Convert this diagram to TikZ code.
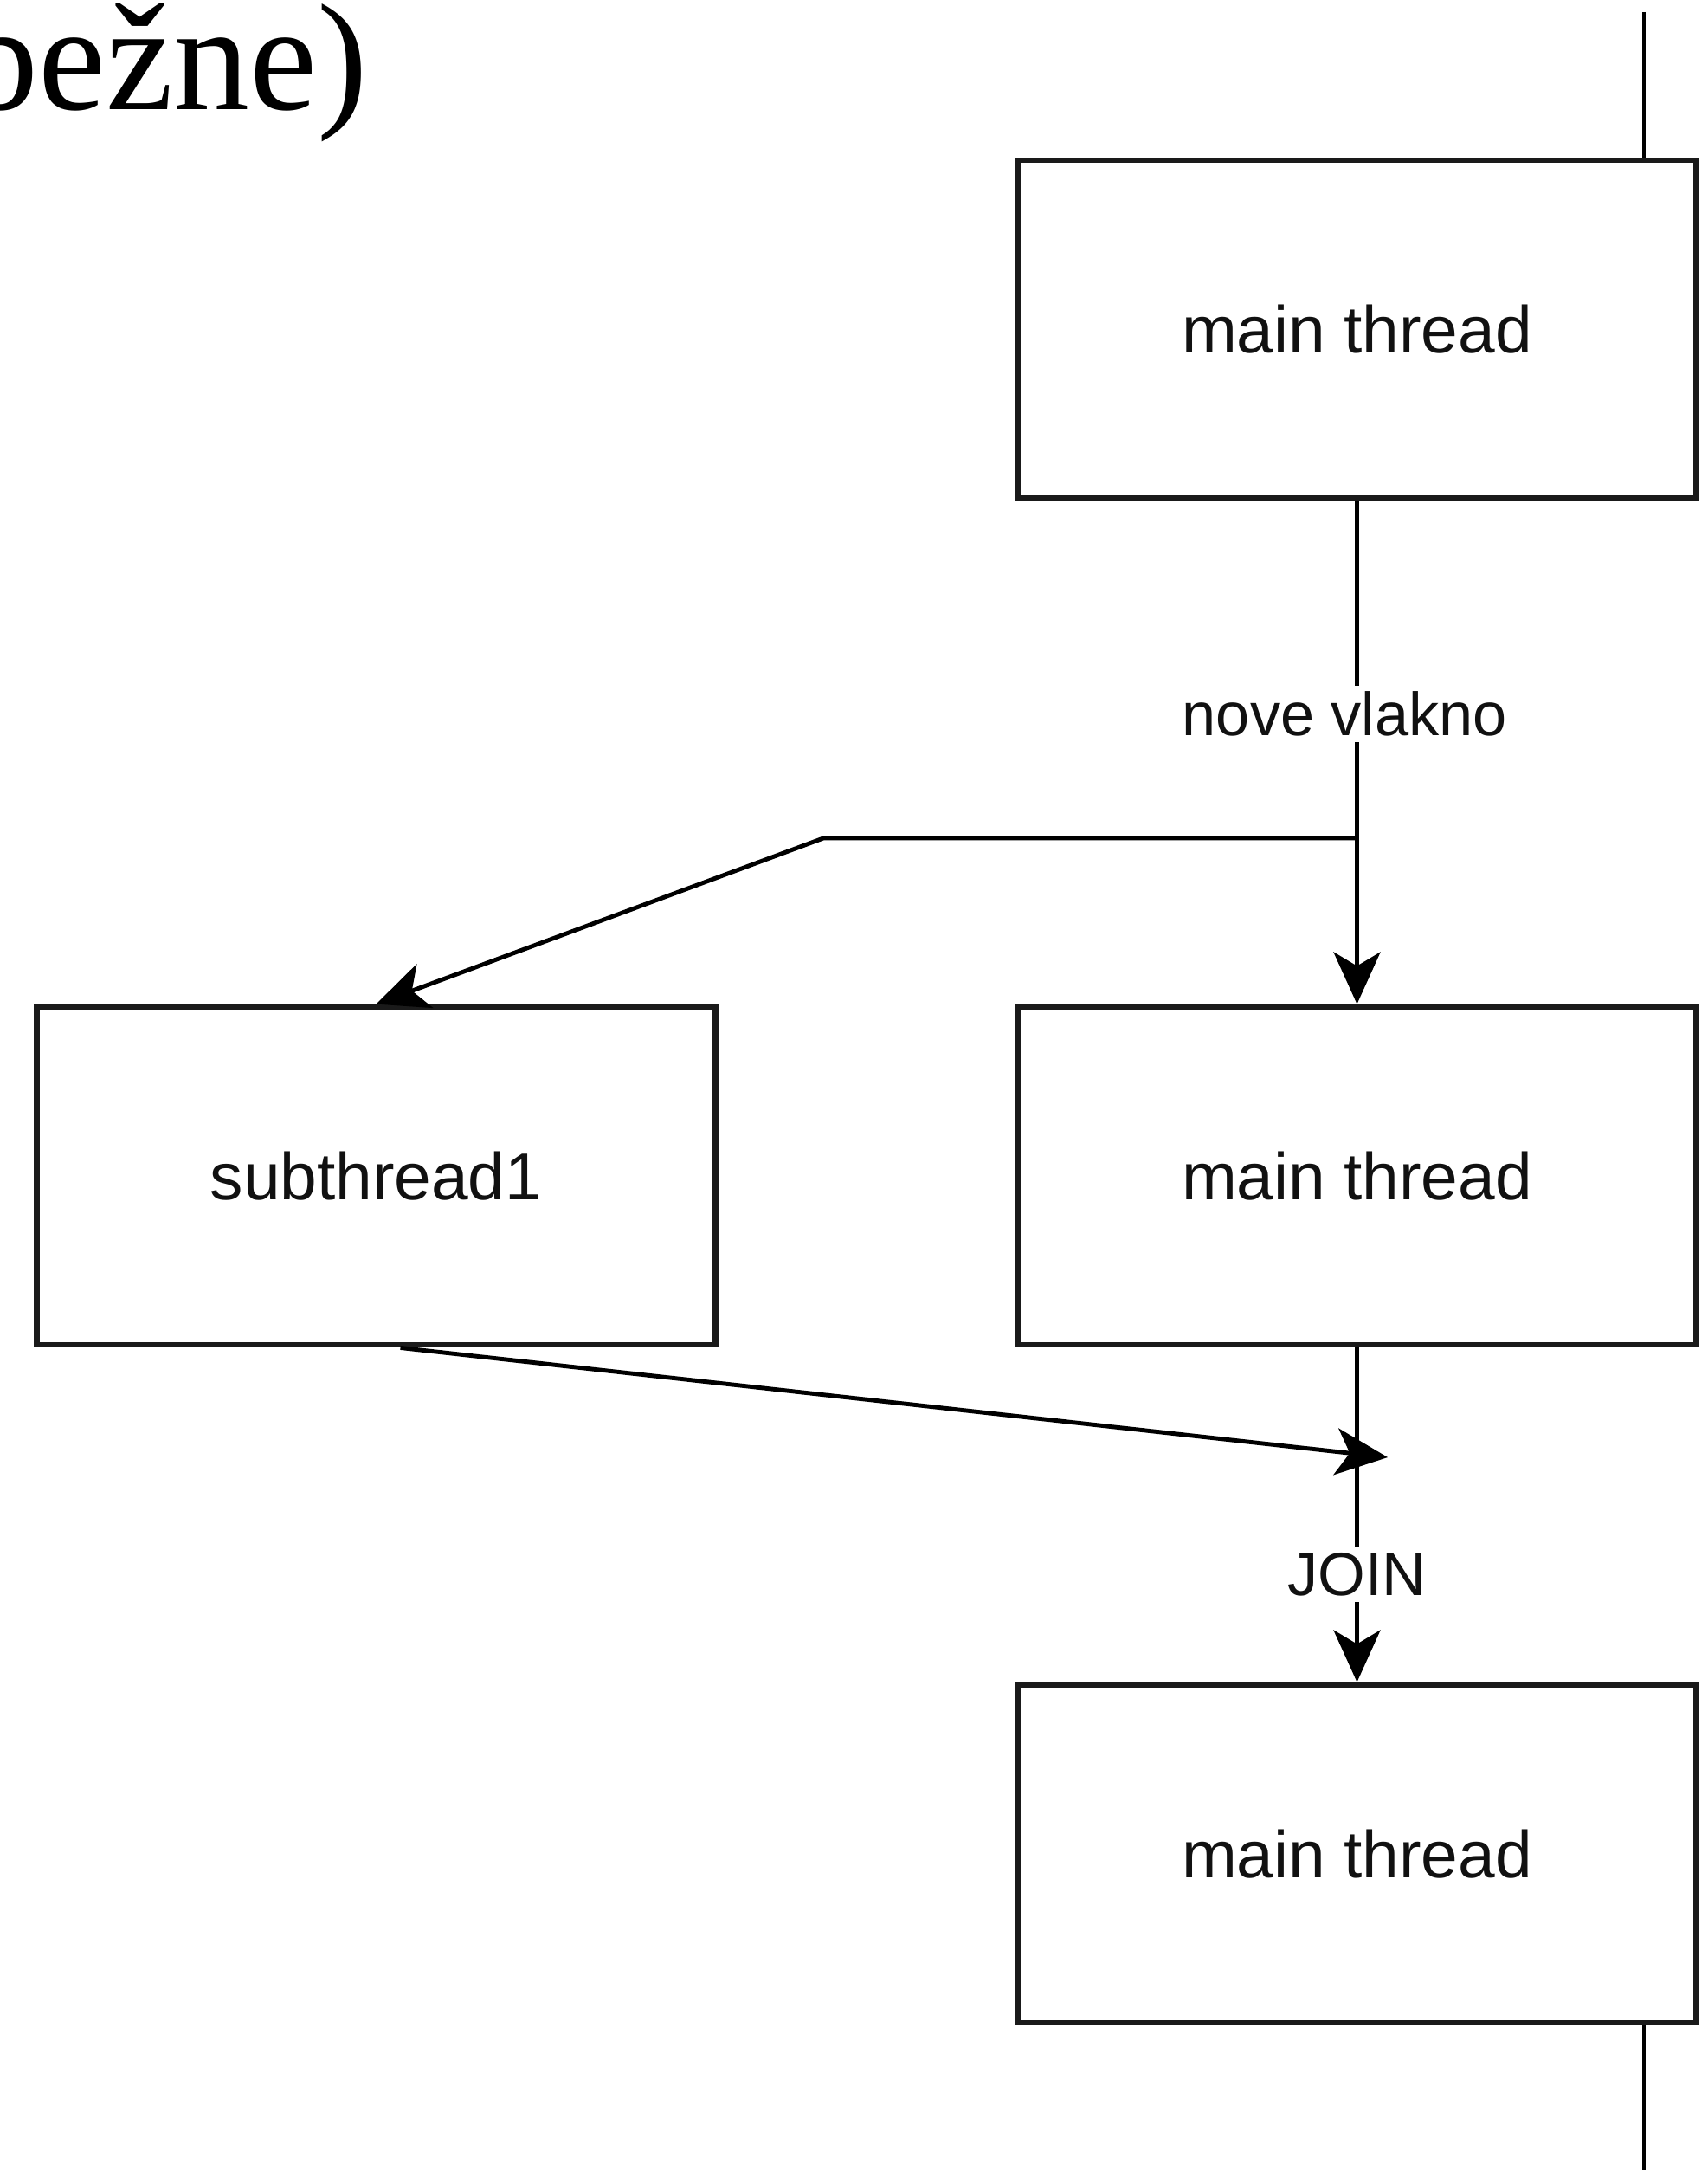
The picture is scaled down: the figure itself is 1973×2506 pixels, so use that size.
\documentclass[tikz,border=0pt]{standalone}
\usepackage{fontspec}
\setmainfont{Liberation Serif}
\newfontfamily\arial{Liberation Sans}
\usetikzlibrary{positioning, arrows.meta, calc}
\definecolor{tinta}{HTML}{111111}
\definecolor{borde}{HTML}{1A1A1A}

\begin{document}
\begin{tikzpicture}[x=0.01cm, y=-0.01cm,
				caja/.style={draw=borde, line width=1.9pt, minimum width=7.83cm, minimum height=3.9cm, inner sep=0pt, font=\arial\fontsize{21.8}{26}\selectfont, text=tinta},
				conn/.style={draw=black, line width=1.4pt},
				flecha/.style={conn, -{Stealth[length=0.6cm, width=0.54cm, inset=0.16cm]}},
				etiq/.style={fill=white, inner sep=2pt, font=\arial\fontsize{20}{24}\selectfont, text=tinta}]
				\useasboundingbox (0,0) rectangle (1973,2506);
				\node[anchor=base east, inner sep=0pt, font=\fontsize{50}{58}\selectfont] (titulo) at (426,127) {(súbežne)};
				\node[caja] (main1) at (1567.5,380)  {main thread};
				\node[caja] (sub)   at (434.5,1358)  {subthread1};
				\node[caja] (main2) at (1567.5,1358) {main thread};
				\node[caja] (main3) at (1567.5,2141) {main thread};
				\coordinate (vidaA) at (1899,14);
				\coordinate (vidaB) at (1899,2506);
				\coordinate (split) at (1567.5,968);
				\coordinate (codo)  at (951,968);
				\coordinate (union) at (1603,1683);
				\draw[conn] (vidaA) -- (vidaA |- main1.north);
				\draw[conn] (vidaB) -- (vidaB |- main3.south);
				\draw[flecha] (main1) -- node[etiq, pos=0.4235, xshift=-0.14cm] (nuevo) {nove vlakno} (main2);
				\draw[flecha] (split) -- (codo) -- (sub.north);
				\draw[flecha] ($(sub.south)+(28,0)$) -- (union);
				\draw[flecha] (main2) -- node[etiq, pos=0.677] (join) {JOIN} (main3);
			\end{tikzpicture}
\end{document}
